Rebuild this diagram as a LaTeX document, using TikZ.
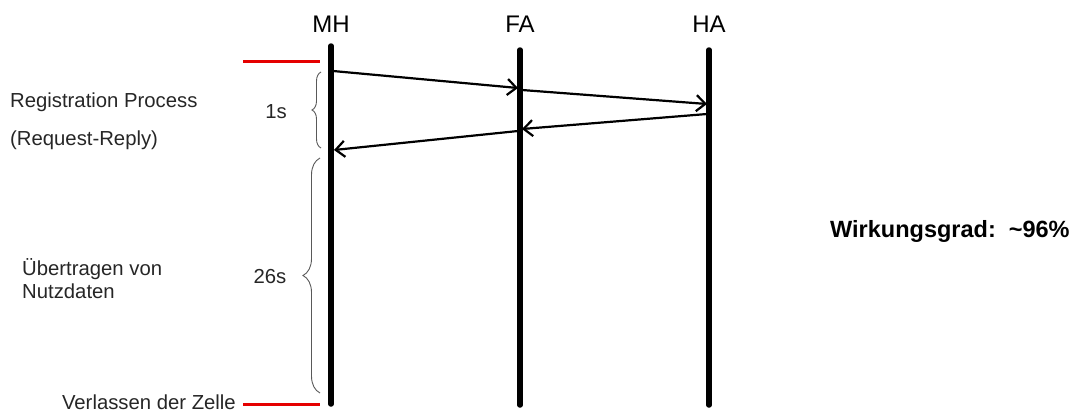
\documentclass[tikz,border=0pt]{standalone}
\usepackage{fontspec}
\setmainfont{Liberation Sans}
\usetikzlibrary{arrows.meta,decorations.pathreplacing}
\begin{document}
\begin{tikzpicture}[x=1pt,y=-1pt,
  life/.style={line width=5.5pt,line cap=round},
  msg/.style={line width=2.2pt,-{Straight Barb[length=9pt,width=16pt,line width=2.2pt]}},
  redmark/.style={line width=3pt,red!90!black},
  bracestyle/.style={decorate,gray!70!black,line width=0.9pt},
  head/.style={inner sep=0pt,anchor=base,font=\fontsize{24}{28}\selectfont},
  side/.style={inner sep=0pt,font=\fontsize{20.3}{24}\selectfont,text=black!85},
  big/.style={inner sep=0pt,anchor=base west,font=\bfseries\fontsize{23.5}{28}\selectfont}]
\useasboundingbox (0,0) rectangle (1076,413);
% lifelines
\coordinate (mhT) at (331,46); \coordinate (mhB) at (331,404);
\coordinate (faT) at (520,50); \coordinate (faB) at (520,405);
\coordinate (haT) at (709,50); \coordinate (haB) at (709,405);
\draw[life] (mhT) -- (mhB);
\draw[life] (faT) -- (faB);
\draw[life] (haT) -- (haB);
% heads
\node[head] (mh) at (331,32) {MH};
\node[head] (fa) at (520,32) {FA};
\node[head] (ha) at (709,32) {HA};
% messages
\coordinate (a1s) at (333,71);  \coordinate (a1e) at (518,88);
\coordinate (a2s) at (522,90);  \coordinate (a2e) at (707,104);
\coordinate (a3s) at (707,114); \coordinate (a3e) at (522,129);
\coordinate (a4s) at (518,131); \coordinate (a4e) at (334,150);
\draw[msg] (a1s) -- (a1e);
\draw[msg] (a2s) -- (a2e);
\draw[msg] (a3s) -- (a3e);
\draw[msg] (a4s) -- (a4e);
% red markers
\coordinate (r1a) at (243,61);  \coordinate (r1b) at (320,61);
\coordinate (r2a) at (243,404); \coordinate (r2b) at (320,404);
\draw[redmark] (r1a) -- (r1b);
\draw[redmark] (r2a) -- (r2b);
% braces
\coordinate (b1a) at (321,148); \coordinate (b1b) at (321,72);
\coordinate (b2a) at (320,393); \coordinate (b2b) at (320,158);
\draw[bracestyle,decoration={brace,amplitude=9pt}] (b1a) -- (b1b);
\draw[bracestyle,decoration={brace,amplitude=17pt}] (b2a) -- (b2b);
\node[side,anchor=base] (t1) at (276,118) {1s};
\node[side,anchor=base] (t26) at (270,283) {26s};
% side texts
\node[side,anchor=base west] (reg) at (10,107) {Registration Process};
\node[side,anchor=base west] (rr) at (10,145) {(Request-Reply)};
\node[side,anchor=base west] (ub) at (22,275) {Übertragen von};
\node[side,anchor=base west] (nd) at (22,298) {Nutzdaten};
\node[side,anchor=base east] (vz) at (236,409) {Verlassen der Zelle};
\node[big] (wg) at (830,237) {Wirkungsgrad:\ \ \textasciitilde96\%};
\end{tikzpicture}
\end{document}
